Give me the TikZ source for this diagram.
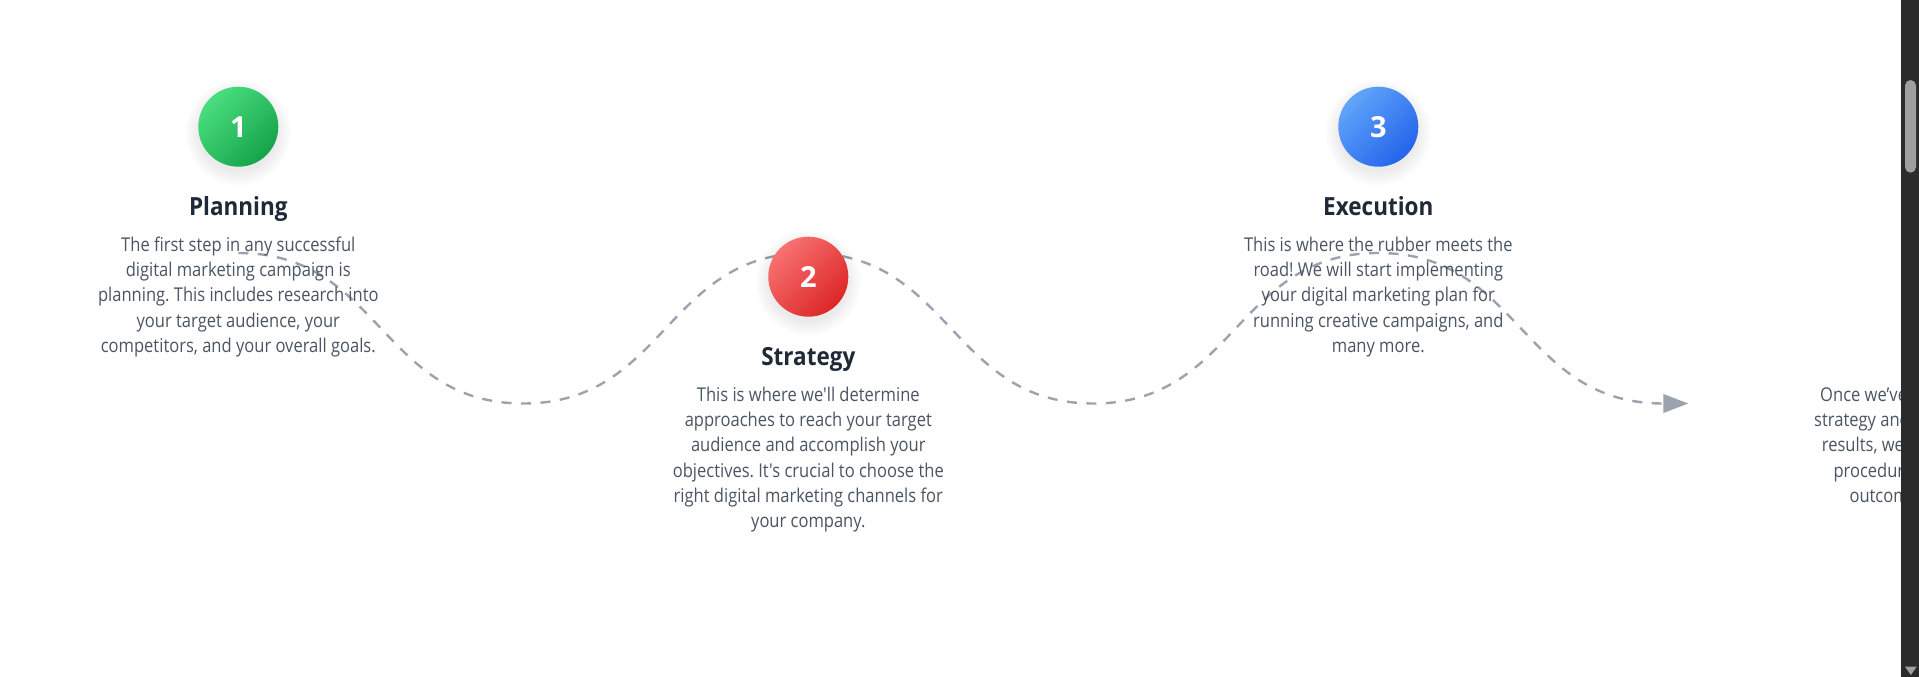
\documentclass[tikz,border=0pt]{standalone}
\usepackage{fontspec}
\usetikzlibrary{arrows.meta,calc}
\newfontfamily\mybody[FakeStretch=0.87,Ligatures=TeXOff]{Open Sans}
\newfontfamily\mytitle[FakeStretch=0.9]{Open Sans}
\newfontfamily\mynum{Open Sans}
\definecolor{wavecol}{HTML}{9CA3AF}
\definecolor{titlecol}{HTML}{1F2937}
\definecolor{bodycol}{HTML}{4B5563}
\definecolor{gA}{HTML}{4ADE80}\definecolor{gB}{HTML}{16A34A}
\definecolor{rA}{HTML}{F87171}\definecolor{rB}{HTML}{DC2626}
\definecolor{bA}{HTML}{60A5FA}\definecolor{bB}{HTML}{2563EB}
\definecolor{sbtrack}{HTML}{2B2B2B}
\definecolor{sbthumb}{HTML}{9F9F9F}
\newcommand{\bodyblock}[1]{\parbox[t]{360pt}{\centering\frenchspacing\mybody\fontsize{19}{25.1}\selectfont #1}}
\newcommand{\softshadow}[1]{%
  \foreach \k in {1,...,10} {\fill[black, opacity=0.0065] ($(#1)+(0,6)$) circle[radius={38+1.5*\k}];}}
\tikzset{
  stepcirc/.style={circle, minimum size=80pt, inner sep=0pt, text=white,
    font=\mynum\bfseries\fontsize{29}{32}\selectfont},
  greenfill/.style={top color=gA, bottom color=gB, shading angle=45},
  redfill/.style={top color=rA, bottom color=rB, shading angle=45},
  bluefill/.style={top color=bA, bottom color=bB, shading angle=45},
  steptitle/.style={anchor=base, inner sep=0pt, text=titlecol, font=\mytitle\bfseries\fontsize{25}{30}\selectfont},
  stepbody/.style={anchor=base, inner sep=0pt, text=bodycol},
  sidebody/.style={anchor=base west, inner sep=0pt, text=bodycol, font=\mybody\fontsize{19}{25.1}\selectfont},
  wave/.style={draw=wavecol, line width=2.4pt, dash pattern=on 10pt off 9.5pt}
}
\begin{document}
\begin{tikzpicture}[x=1pt,y=-1pt]
\fill[white] (0,0) rectangle (1919,677);
\useasboundingbox (0,0) rectangle (1919,677);
% wave
\coordinate (w0) at (238.3,253);
\coordinate (w1) at (523.3,403.5);
\coordinate (w2) at (808.3,253);
\coordinate (w3) at (1093.3,403.5);
\coordinate (w4) at (1378.3,253);
\coordinate (w5) at (1663.3,403.5);
\coordinate (tip) at (1688.3,403.5);
\draw[wave, -{Triangle[length=25pt,width=18.5pt]}]
  (w0) .. controls +(142.5,0) and +(-142.5,0) .. (w1)
       .. controls +(142.5,0) and +(-142.5,0) .. (w2)
       .. controls +(142.5,0) and +(-142.5,0) .. (w3)
       .. controls +(142.5,0) and +(-142.5,0) .. (w4)
       .. controls +(142.5,0) and +(-142.5,0) .. (w5) -- (tip);
% centres
\coordinate (p1) at (238.3,126.7);
\coordinate (p2) at (808.3,276.7);
\coordinate (p3) at (1378.3,126.7);
\softshadow{p1}\softshadow{p2}\softshadow{p3}
% step 1
\node[stepcirc, greenfill] (c1) at (p1) {1};
\node[steptitle] (t1) at (238.3,215.7) {Planning};
\node[stepbody] (b1) at (238.3,251.7) {\bodyblock{The first step in any successful\\digital marketing campaign is\\planning. This includes research into\\your target audience, your\\competitors, and your overall goals.}};
% step 2
\node[stepcirc, redfill] (c2) at (p2) {2};
\node[steptitle] (t2) at (808.3,365.7) {Strategy};
\node[stepbody] (b2) at (808.3,401.7) {\bodyblock{This is where we'll determine\\approaches to reach your target\\audience and accomplish your\\objectives. It's crucial to choose the\\right digital marketing channels for\\your company.}};
% step 3
\node[stepcirc, bluefill] (c3) at (p3) {3};
\node[steptitle] (t3) at (1378.3,215.7) {Execution};
\node[stepbody] (b3) at (1378.3,251.7) {\bodyblock{This is where the rubber meets the\\road! We will start implementing\\your digital marketing plan for\\running creative campaigns, and\\many more.}};
% step 4 (cut off)
\begin{scope}
\clip (0,0) rectangle (1901,677);
\node[sidebody] (d1) at (1820,401.7) {Once we’ve};
\node[sidebody] (d2) at (1814,426.8) {strategy and};
\node[sidebody] (d3) at (1821.7,451.9) {results, we};
\node[sidebody] (d4) at (1833.3,477) {procedure};
\node[sidebody] (d5) at (1849.3,502.1) {outcome};
\end{scope}
% scrollbar
\fill[sbtrack] (1901,0) rectangle (1919,677);
\fill[sbthumb, rounded corners=5.5pt] (1905,80) rectangle (1916,172.7);
\fill[sbthumb] (1905,666.7) -- (1916.7,666.7) -- (1910.85,675) -- cycle;
\end{tikzpicture}
\end{document}
